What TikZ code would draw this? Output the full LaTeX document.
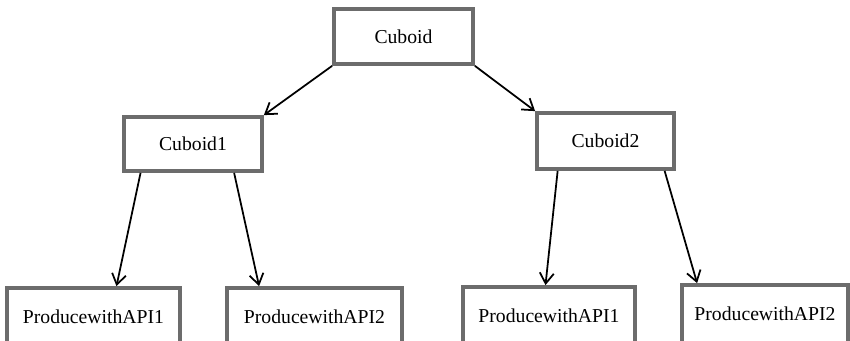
\documentclass[tikz,border=0pt]{standalone}
\usepackage{fontspec}
\setmainfont{Liberation Serif}
\usetikzlibrary{arrows.meta,calc}
\definecolor{boxgray}{RGB}{108,108,108}
\begin{document}
\begin{tikzpicture}[x=0.03cm, y=-0.03cm, every node/.style={font=\fontsize{16.8}{20}\selectfont},
  blk/.style={draw=boxgray, line width=3.2pt, inner sep=0pt, minimum height=1.65cm},
  link/.style={line width=1.5pt, -{Straight Barb[length=9pt, width=12pt, line width=1.5pt]}}]
  \useasboundingbox (0,0) rectangle (850,341);
  \clip (0,0) rectangle (850,341);
  % top
  \node[blk, minimum width=4.17cm] (cub) at (403.5,36.5) {Cuboid};
  \node[blk, minimum width=4.14cm, minimum height=1.62cm] (c1) at (193,144) {Cuboid1};
  \node[blk, minimum width=4.11cm, minimum height=1.68cm] (c2) at (605.5,141) {Cuboid2};
  % leaves
  \node[blk, minimum width=5.19cm, minimum height=1.74cm] (p11) at (93.5,317) {ProducewithAPI1};
  \node[blk, minimum width=5.25cm, minimum height=1.74cm] (p12) at (314.5,317) {ProducewithAPI2};
  \node[blk, minimum width=5.16cm, minimum height=1.74cm] (p21) at (549,316) {ProducewithAPI1};
  \node[blk, minimum width=4.98cm, minimum height=1.74cm] (p22) at (765,314) {ProducewithAPI2};
  % arrows
  \draw[link] (cub.south west) -- (c1.north east);
  \draw[link] (cub.south east) -- (c2.north west);
  \draw[link] ($(c1.south west)!0.13!(c1.south east)$) -- ($(p11.north west)!0.63!(p11.north east)$);
  \draw[link] ($(c1.south west)!0.79!(c1.south east)$) -- ($(p12.north west)!0.19!(p12.north east)$);
  \draw[link] ($(c2.south west)!0.16!(c2.south east)$) -- ($(p21.north west)!0.48!(p21.north east)$);
  \draw[link] ($(c2.south west)!0.92!(c2.south east)$) -- ($(p22.north west)!0.10!(p22.north east)$);
\end{tikzpicture}
\end{document}
